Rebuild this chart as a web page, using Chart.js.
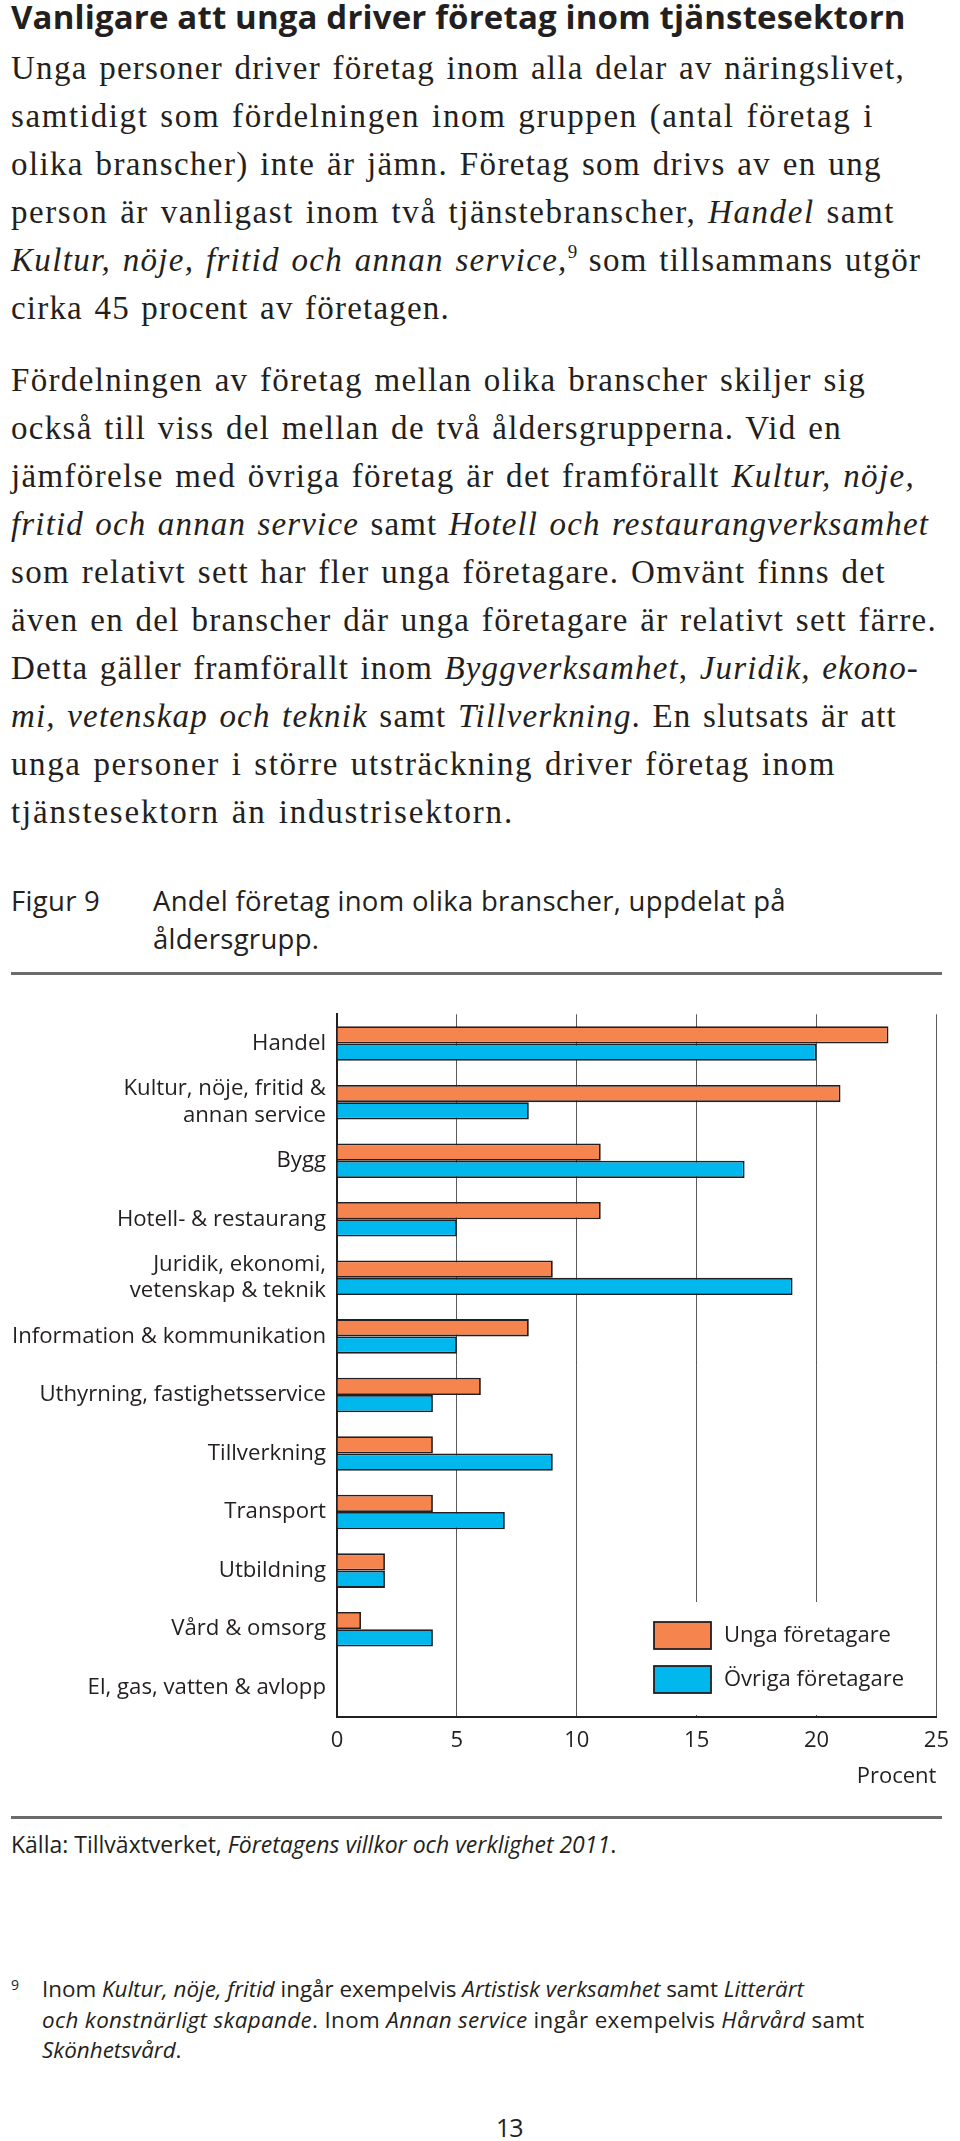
<!DOCTYPE html>
<html lang="sv">
<head>
<meta charset="utf-8">
<script src="https://cdn.jsdelivr.net/npm/chart.js@4.4.1/dist/chart.umd.min.js"></script>
<style>
  html, body { margin: 0; padding: 0; background: #fff; }
  body { width: 960px; height: 2141px; position: relative; overflow: hidden; color: #231f20; }
  .ln { position: absolute; left: 11px; white-space: nowrap; }
  .title { font-family: "Open Sans", sans-serif; font-weight: 700; font-size: 33px; letter-spacing: 0.15px; line-height: 40px; top: -3px; }
  .serif { font-family: "Liberation Serif", serif; font-size: 33px; line-height: 48px; letter-spacing: 0.6px; word-spacing: 2px; }
  .serif sup { font-size: 19px; vertical-align: 13px; line-height: 0; letter-spacing: 0; }
  .sans { font-family: "Open Sans", sans-serif; }
  .cap { font-size: 27.5px; line-height: 38px; letter-spacing: 0.3px; }
  .rule { position: absolute; left: 11px; width: 931px; height: 3px; background: #6b6b6b; }
  .src { font-size: 23px; line-height: 30.5px; }
  .small { font-size: 22.4px; line-height: 30.5px; }
  #chartBox { position: absolute; left: 0; top: 990px; width: 960px; height: 810px; }
</style>
</head>
<body>
<div class="ln title">Vanligare att unga driver företag inom tjänstesektorn</div>

<div class="ln serif" data-end="905" style="top:44px">Unga personer driver företag inom alla delar av näringslivet,</div>
<div class="ln serif" data-end="874" style="top:92px">samtidigt som fördelningen inom gruppen (antal företag i</div>
<div class="ln serif" data-end="882" style="top:140px">olika branscher) inte är jämn. Företag som drivs av en ung</div>
<div class="ln serif" data-end="895" style="top:188px">person är vanligast inom två tjänstebranscher, <i>Handel</i> samt</div>
<div class="ln serif" data-end="922" style="top:236px"><i>Kultur, nöje, fritid och annan service,</i><sup>9</sup> som tillsammans utgör</div>
<div class="ln serif" data-end="450" style="top:284px">cirka 45 procent av företagen.</div>

<div class="ln serif" data-end="866" style="top:356px">Fördelningen av företag mellan olika branscher skiljer sig</div>
<div class="ln serif" data-end="842" style="top:404px">också till viss del mellan de två åldersgrupperna. Vid en</div>
<div class="ln serif" data-end="915" style="top:452px">jämförelse med övriga företag är det framförallt <i>Kultur, nöje,</i></div>
<div class="ln serif" data-end="929" style="top:500px"><i>fritid och annan service</i> samt <i>Hotell och restaurangverksamhet</i></div>
<div class="ln serif" data-end="886" style="top:548px">som relativt sett har fler unga företagare. Omvänt finns det</div>
<div class="ln serif" data-end="937" style="top:596px">även en del branscher där unga företagare är relativt sett färre.</div>
<div class="ln serif" data-end="919" style="top:644px">Detta gäller framförallt inom <i>Byggverksamhet</i>, <i>Juridik, ekono-</i></div>
<div class="ln serif" data-end="897" style="top:692px"><i>mi, vetenskap och teknik</i> samt <i>Tillverkning</i>. En slutsats är att</div>
<div class="ln serif" data-end="836" style="top:740px">unga personer i större utsträckning driver företag inom</div>
<div class="ln serif" data-end="514" style="top:788px">tjänstesektorn än industrisektorn.</div>

<div class="ln sans cap" style="top:882px">Figur 9</div>
<div class="ln sans cap" style="top:882px; left:153px">Andel företag inom olika branscher, uppdelat på</div>
<div class="ln sans cap" style="top:920px; left:153px">åldersgrupp.</div>
<div class="rule" style="top:972px"></div>

<div id="chartBox"><canvas id="c"></canvas></div>

<div class="rule" style="top:1816px"></div>
<div class="ln sans src" style="top:1829px">Källa: Tillväxtverket, <i>Företagens villkor och verklighet 2011</i>.</div>

<div class="ln sans" style="top:1975px; font-size:14px; line-height:20px">9</div>
<div class="ln sans small" style="top:1974px; left:42px">Inom <i>Kultur, nöje, fritid</i> ingår exempelvis <i>Artistisk verksamhet</i> samt <i>Litterärt</i></div>
<div class="ln sans small" style="top:2004.5px; left:42px; letter-spacing:0.35px"><i>och konstnärligt skapande</i>. Inom <i>Annan service</i> ingår exempelvis <i>Hårvård</i> samt</div>
<div class="ln sans small" style="top:2035px; left:42px"><i>Skönhetsvård</i>.</div>

<div class="ln sans" style="top:2110px; left:496px; font-size:25px; line-height:34px; letter-spacing:-1px">13</div>

<script>
// fit each body-text line to the measured line length of the original typesetting
document.querySelectorAll(".serif[data-end]").forEach(el => {
  const target = parseFloat(el.dataset.end);
  const right = el.getBoundingClientRect().right;
  const n = el.textContent.length;
  const base = parseFloat(getComputedStyle(el).letterSpacing) || 0;
  el.style.letterSpacing = (base + (target - right) / n) + "px";
});

const categories = [
  "Handel",
  ["Kultur, nöje, fritid &", "annan service"],
  "Bygg",
  "Hotell- & restaurang",
  ["Juridik, ekonomi,", "vetenskap & teknik"],
  "Information & kommunikation",
  "Uthyrning, fastighetsservice",
  "Tillverkning",
  "Transport",
  "Utbildning",
  "Vård & omsorg",
  "El, gas, vatten & avlopp"
];
const seriesNames = ["Unga företagare", "Övriga företagare"];
const ungaForetagare   = [23, 21, 11, 11, 9, 8, 6, 4, 4, 2, 1, 0];
const ovrigaForetagare = [20,  8, 17,  5, 19, 5, 4, 9, 7, 2, 4, 0];
const xTickValues = [0, 5, 10, 15, 20, 25];
const xAxisTitle = "Procent";

const ORANGE = "#F5844F";
const BLUE = "#00B7EE";
const INK = "#231f20";
const FONT = "'Open Sans', sans-serif";

const legendPlugin = {
  id: "boxLegend",
  beforeDatasetsDraw(chart) {
    const {ctx, chartArea} = chart;
    ctx.save();
    ctx.fillStyle = "#fff";
    ctx.fillRect(chartArea.left + 270, chartArea.bottom - 115, 326, 113);
    ctx.restore();
  },
  afterDraw(chart) {
    const {ctx, chartArea} = chart;
    const bx = chartArea.left + 317;
    const tops = [chartArea.bottom - 95, chartArea.bottom - 51];
    ctx.save();
    chart.data.datasets.forEach((ds, i) => {
      ctx.fillStyle = ds.backgroundColor;
      ctx.fillRect(bx, tops[i], 57, 27);
      ctx.lineWidth = 1.8;
      ctx.strokeStyle = INK;
      ctx.strokeRect(bx, tops[i], 57, 27);
      ctx.fillStyle = INK;
      ctx.font = "22px " + FONT;
      ctx.textBaseline = "middle";
      ctx.textAlign = "left";
      ctx.fillText(ds.label, bx + 70, tops[i] + 14);
    });
    ctx.restore();
  }
};

new Chart(document.getElementById("c"), {
  type: "bar",
  data: {
    labels: categories,
    datasets: [
      { label: seriesNames[0], data: ungaForetagare, backgroundColor: ORANGE },
      { label: seriesNames[1], data: ovrigaForetagare, backgroundColor: BLUE }
    ]
  },
  options: {
    indexAxis: "y",
    responsive: true,
    maintainAspectRatio: false,
    animation: false,
    layout: { padding: { top: 18, right: 18, left: 0, bottom: 0 } },
    datasets: {
      bar: {
        barPercentage: 1.0,
        categoryPercentage: 0.59,
        borderColor: INK,
        borderWidth: (c) => (c.raw ? 1.8 : 0),
        borderSkipped: "start"
      }
    },
    plugins: { legend: { display: false }, tooltip: { enabled: false } },
    scales: {
      x: {
        min: 0, max: 25,
        afterBuildTicks: (s) => { s.ticks = xTickValues.map(v => ({ value: v })); },
        afterFit: (s) => { s.height = 83; },
        grid: { color: "#5a5a5a", lineWidth: 1, drawTicks: false },
        border: { display: true, color: INK, width: 2 },
        ticks: { color: INK, font: { family: FONT, size: 22 }, padding: 11 },
        title: { display: true, text: xAxisTitle, align: "end", color: INK,
                 font: { family: FONT, size: 22 }, padding: { top: 0, bottom: 10 } }
      },
      y: {
        afterFit: (s) => { s.width = 337; },
        grid: { display: false, drawTicks: false },
        border: { display: true, color: INK, width: 2 },
        ticks: { color: INK, font: { family: FONT, size: 22.2, lineHeight: 1.2 }, padding: 11, autoSkip: false }
      }
    }
  },
  plugins: [legendPlugin]
});
</script>
</body>
</html>
